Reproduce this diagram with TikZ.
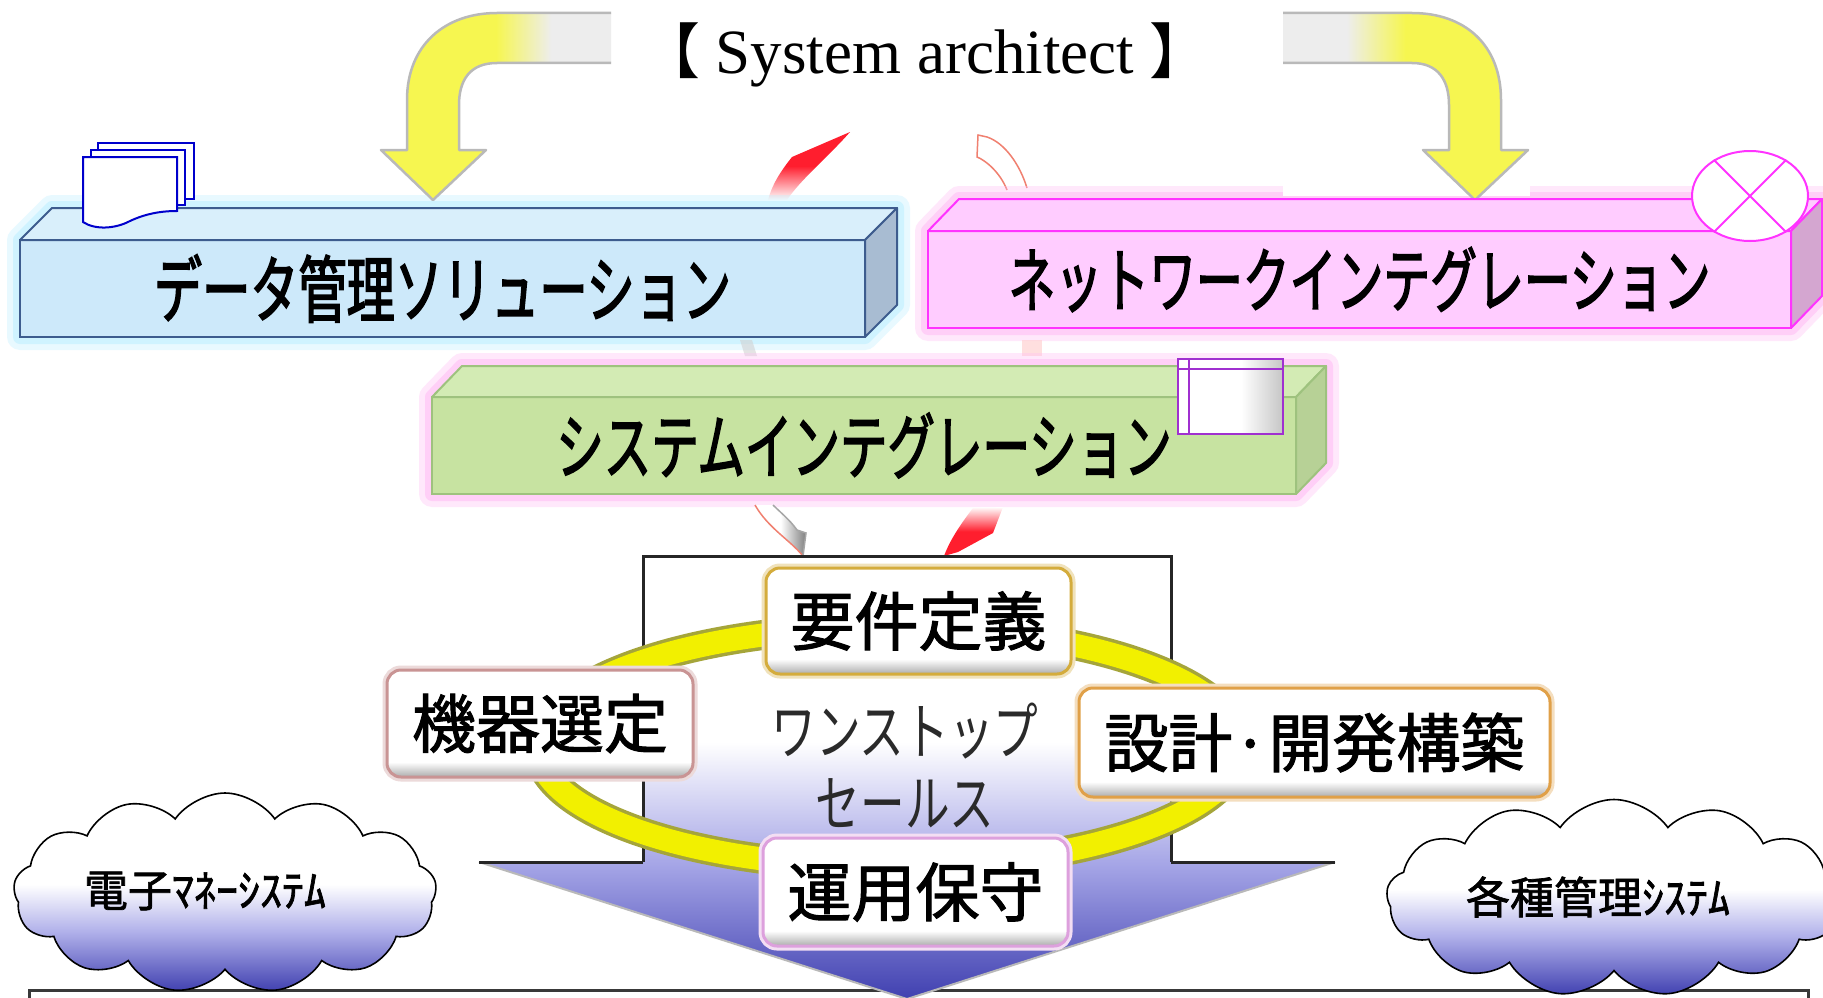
\documentclass[tikz,border=0pt]{standalone}
\usepackage{fontspec}
\setmainfont{Liberation Serif}
\newfontfamily\jp{Noto Sans CJK JP}
\newfontfamily\jpb[FakeBold=1.6]{Noto Sans CJK JP}
\newfontfamily\jpn[FakeStretch=0.72]{Noto Sans CJK JP}
\newfontfamily\jpnb[FakeStretch=0.66,FakeBold=2]{Noto Sans CJK JP}
\usetikzlibrary{shapes.symbols,shapes.geometric,calc}

% palette
\definecolor{bluefront}{HTML}{CDE9FA}
\definecolor{bluetop}{HTML}{D9EFFB}
\definecolor{blueside}{HTML}{A8BCD2}
\definecolor{blueline}{HTML}{3D5C8E}
\definecolor{pinkfront}{HTML}{FFCCFF}
\definecolor{pinkside}{HTML}{D4A6D0}
\definecolor{pinkline}{HTML}{FF33FF}
\definecolor{greenfront}{HTML}{C7E3A1}
\definecolor{greentop}{HTML}{D3EBB4}
\definecolor{greenside}{HTML}{B7D196}
\definecolor{greenline}{HTML}{9EC27E}
\definecolor{glowcyan}{HTML}{BFF0FF}
\definecolor{glowpink}{HTML}{FFBFF5}
\definecolor{ringyellow}{HTML}{F2F000}
\definecolor{ringedge}{HTML}{A5A53A}
\definecolor{arrowyellow}{HTML}{F6F650}
\definecolor{arrowred}{HTML}{FF1E2E}
\definecolor{arrowviolet}{HTML}{4040B0}
\definecolor{lavender}{HTML}{A4A4E6}
\definecolor{cloudlav}{HTML}{B0B0EA}
\definecolor{docblue}{HTML}{0000CC}
\definecolor{winpurple}{HTML}{A030D0}
\definecolor{salmon}{HTML}{F08070}
\definecolor{textgray}{HTML}{2A2A2A}
\definecolor{goldline}{HTML}{D4AC3C}
\definecolor{roseline}{HTML}{C99494}
\definecolor{orangeline}{HTML}{E0A048}
\definecolor{orchidline}{HTML}{DDA0DD}
\definecolor{palegray}{HTML}{EDEDED}

% shadings
\pgfdeclareverticalshading{btnshade}{100bp}{color(0bp)=(gray!65); color(25bp)=(gray!65); color(32bp)=(white); color(100bp)=(white)}
\pgfdeclareverticalshading{blockshade}{100bp}{color(0bp)=(arrowviolet); color(25bp)=(arrowviolet); color(40bp)=(lavender); color(54bp)=(white); color(100bp)=(white)}
\pgfdeclareverticalshading{cloudshade}{100bp}{color(0bp)=(arrowviolet); color(25bp)=(arrowviolet); color(40bp)=(cloudlav); color(52bp)=(white); color(100bp)=(white)}
\pgfdeclareverticalshading{redfade}{100bp}{color(0bp)=(white); color(25bp)=(white); color(50bp)=(arrowred); color(100bp)=(arrowred)}
\pgfdeclarehorizontalshading{yellowL}{100bp}{color(0bp)=(arrowyellow); color(50bp)=(arrowyellow); color(62bp)=(palegray); color(100bp)=(palegray)}
\pgfdeclarehorizontalshading{yellowR}{100bp}{color(0bp)=(palegray); color(38bp)=(palegray); color(50bp)=(arrowyellow); color(100bp)=(arrowyellow)}
\pgfdeclarehorizontalshading{greyside}{100bp}{color(0bp)=(white); color(50bp)=(white); color(75bp)=(gray); color(100bp)=(gray)}
\pgfdeclarehorizontalshading{winshade}{100bp}{color(0bp)=(white); color(55bp)=(white); color(75bp)=(gray!45); color(100bp)=(gray!45)}

\tikzset{
  prismfront/.style 2 args={fill=#1, draw=#2, line width=2pt, inner sep=0pt, outer sep=0pt, minimum height=97pt},
  lbl/.style={rounded corners=14pt, draw=#1, line width=3pt, shade, shading=btnshade,
    preaction={draw=#1!35, line width=9pt}, font={\jpb\fontsize{64}{70}\selectfont},
    inner sep=0pt, outer sep=0pt, text=black},
  puff/.style={cloud, cloud puffs=13, cloud puff arc=110, cloud ignores aspect, draw=black,
    line width=1.6pt, shade, shading=cloudshade, inner sep=0pt},
  cloudtext/.style={font={\jpb\fontsize{44}{46}\selectfont}, text=black},
  glowline/.style={line join=round, line width=#1},
}

\begin{document}
\begin{tikzpicture}[x=1pt,y=-1pt]
\useasboundingbox (0,0) rectangle (1823,998);
\clip (0,0) rectangle (1823,998);
\fill[white] (0,0) rectangle (1823,998);

% container edge along the bottom
\draw[line width=3pt, gray!45!black] (29,1010) -- (29,990) -- (1808,990) -- (1808,1010);

% title
\node[font=\fontsize{63}{70}\selectfont, anchor=base] (title) at (925,74)
  {{\jp\fontsize{60}{70}\selectfont 【}\ System architect\ {\jp\fontsize{60}{70}\selectfont 】}};

% red arrow leaving the data box, pale arrow entering the network box
\shade[shading=redfade] (768,200) .. controls (772,185) and (780,172) .. (792,157)
  -- (850,132) .. controls (830,155) and (800,180) .. (787,200) -- cycle;
\filldraw[fill=white, draw=salmon, line width=1.5pt]
  (1007,190) .. controls (1000,172) and (985,160) .. (977,157) -- (978,135) -- (987,137)
  .. controls (1005,143) and (1020,165) .. (1027,188);

% glows behind the prisms
\draw[glowcyan, glowline=26pt, opacity=0.35] (20,337) -- (20,240) -- (52,208) -- (897,208) -- (897,305) -- (865,337) -- cycle;
\draw[glowcyan, glowline=14pt, opacity=0.6] (20,337) -- (20,240) -- (52,208) -- (897,208) -- (897,305) -- (865,337) -- cycle;
\draw[glowpink, glowline=26pt, opacity=0.35] (928,328) -- (928,231) -- (959,199) -- (1822,199) -- (1822,296) -- (1791,328) -- cycle;
\draw[glowpink, glowline=14pt, opacity=0.6] (928,328) -- (928,231) -- (959,199) -- (1822,199) -- (1822,296) -- (1791,328) -- cycle;
\fill[white] (1283,150) rectangle (1530,196);

% yellow bent arrows from the architect
\shade[shading=yellowL] (611,13) -- (497,13) .. controls (445,13) and (407,45) .. (407,100)
  -- (407,150) -- (381,150) -- (433,200) -- (486,150) -- (459,150) -- (459,105)
  .. controls (459,80) and (470,63) .. (497,63) -- (611,63) -- cycle;
\draw[gray!55, line width=2.5pt, line join=round] (611,13) -- (497,13) .. controls (445,13) and (407,45) .. (407,100)
  -- (407,150) -- (381,150) -- (433,200) -- (486,150) -- (459,150) -- (459,105)
  .. controls (459,80) and (470,63) .. (497,63) -- (611,63);
\shade[shading=yellowR] (1283,13) -- (1412,13) .. controls (1465,13) and (1501,45) .. (1501,100)
  -- (1501,150) -- (1528,150) -- (1475,200) -- (1423,150) -- (1449,150) -- (1449,105)
  .. controls (1449,80) and (1438,63) .. (1412,63) -- (1283,63) -- cycle;
\draw[gray!55, line width=2.5pt, line join=round] (1283,13) -- (1412,13) .. controls (1465,13) and (1501,45) .. (1501,100)
  -- (1501,150) -- (1528,150) -- (1475,200) -- (1423,150) -- (1449,150) -- (1449,105)
  .. controls (1449,80) and (1438,63) .. (1412,63) -- (1283,63);

% data management prism
\node[prismfront={bluefront}{blueline}, minimum width=845pt, font={\jpnb\fontsize{73}{80}\selectfont}]
  (dms) at (442.5,288.5) {データ管理ソリューション};
\filldraw[fill=bluetop, draw=blueline, line width=2pt, line join=round]
  (dms.north west) -- ++(32,-32) -- ++(845,0) -- (dms.north east) -- cycle;
\filldraw[fill=blueside, draw=blueline, line width=2pt, line join=round]
  (dms.north east) -- ++(32,-32) -- ++(0,97) -- (dms.south east) -- cycle;

% stacked documents icon
\filldraw[fill=white, draw=docblue, line width=2pt] (98,143) rectangle (194,199);
\filldraw[fill=white, draw=docblue, line width=2pt] (91,150) rectangle (185,205);
\filldraw[fill=white, draw=docblue, line width=2pt] (83,157) -- (177,157) -- (177,211)
  .. controls (160,211) and (145,214) .. (130,221) .. controls (115,229) and (95,230) .. (83,222) -- cycle;

% network integration prism
\node[prismfront={pinkfront}{pinkline}, minimum width=863pt, font={\jpnb\fontsize{71}{80}\selectfont}]
  (net) at (1359.5,279.5) {ネットワークインテグレーション};
\filldraw[fill=pinkfront, draw=pinkline, line width=2pt, line join=round]
  (net.north west) -- ++(31,-32) -- ++(863,0) -- (net.north east) -- cycle;
\filldraw[fill=pinkside, draw=pinkline, line width=2pt, line join=round]
  (net.north east) -- ++(31,-32) -- ++(0,97) -- (net.south east) -- cycle;

% network symbol
\node[ellipse, draw=pinkline, fill=white, line width=2pt, minimum width=116pt, minimum height=90pt, inner sep=0pt]
  (netsym) at (1750,196) {};
\draw[pinkline, line width=2pt] (netsym.45) -- (netsym.225) (netsym.135) -- (netsym.315);

% faint links between the upper prisms and the middle one
\fill[gray!35, opacity=0.6] (740,340) -- (752,340) -- (757,356) -- (745,356) -- cycle;
\fill[pink!70, opacity=0.7] (1022,340) rectangle (1042,356);

% system integration prism
\draw[glowpink, glowline=26pt, opacity=0.35] (432,494) -- (432,397) -- (462,366) -- (1326,366) -- (1326,463) -- (1296,494) -- cycle;
\draw[glowpink, glowline=14pt, opacity=0.6] (432,494) -- (432,397) -- (462,366) -- (1326,366) -- (1326,463) -- (1296,494) -- cycle;
\node[prismfront={greenfront}{greenline}, minimum width=864pt, font={\jpnb\fontsize{72}{80}\selectfont}]
  (sys) at (864,445.5) {システムインテグレーション};
\filldraw[fill=greentop, draw=greenline, line width=2pt, line join=round]
  (sys.north west) -- ++(30,-31) -- ++(864,0) -- (sys.north east) -- cycle;
\filldraw[fill=greenside, draw=greenline, line width=2pt, line join=round]
  (sys.north east) -- ++(30,-31) -- ++(0,97) -- (sys.south east) -- cycle;

% window icon
\shade[shading=winshade] (1178,359) rectangle (1283,434);
\draw[winpurple, line width=2pt] (1178,359) rectangle (1283,434);
\draw[winpurple, line width=1.5pt] (1189,359) -- (1189,434) (1178,369) -- (1283,369);

% arrows into the one-stop block
\shade[shading=greyside] (755,505) .. controls (768,528) and (790,540) .. (803,556)
  -- (806,533) -- (797,530) .. controls (790,520) and (780,512) .. (773,505) -- cycle;
\draw[salmon, line width=1.5pt] (755,505) .. controls (768,528) and (790,540) .. (803,556);
\draw[gray!70, line width=1.5pt] (773,505) .. controls (780,512) and (790,520) .. (797,530) -- (806,533) -- (803,556);
\shade[shading=redfade, shading angle=180] (973,508) -- (1003,507) -- (993,533) -- (958,552)
  -- (944,556) .. controls (950,540) and (960,525) .. (973,508) -- cycle;

% one-stop block arrow
\shade[shading=blockshade] (643,556) -- (1171,556) -- (1171,862) -- (1335,862) -- (907,999)
  -- (479,862) -- (643,862) -- cycle;
\draw[gray!55, line width=2pt, line join=round] (479,862) -- (907,999) -- (1335,862);
\draw[gray!30!black, line width=3pt] (643,862) -- (643,556) -- (1171,556) -- (1171,862);
\draw[gray!30!black, line width=3pt] (479,862) -- (643,862) (1171,862) -- (1335,862);

% process ring
\draw[ringedge, line width=30pt] (889,747) ellipse [x radius=351pt, y radius=120pt];
\draw[ringyellow, line width=23pt] (889,747) ellipse [x radius=351pt, y radius=120pt];

\node[font={\jpn\fontsize{62}{72}\selectfont}, text=textgray, align=center]
  (onestop) at (905,766) {ワンストップ\\セールス};

% process steps
\node[lbl=goldline, minimum width=305pt, minimum height=106pt] (req) at (918.5,621) {要件定義};
\node[lbl=roseline, minimum width=306pt, minimum height=107pt] (equip) at (540,723.5) {機器選定};
\node[lbl=orangeline, minimum width=471pt, minimum height=109pt] (design) at (1314.5,742.5) {設計·開発構築};
\node[lbl=orchidline, minimum width=305pt, minimum height=108pt] (ops) at (915.5,892) {運用保守};

% systems as clouds
\node[puff, minimum width=423pt, minimum height=200pt] (emoney) at (225,893) {};
\node[cloudtext] (emoneyt) at (205,891) {電子ﾏﾈｰｼｽﾃﾑ};
\node[puff, minimum width=455pt, minimum height=197pt] (mgmt) at (1614,898) {};
\node[cloudtext] (mgmtt) at (1598,897) {各種管理ｼｽﾃﾑ};
\end{tikzpicture}
\end{document}
